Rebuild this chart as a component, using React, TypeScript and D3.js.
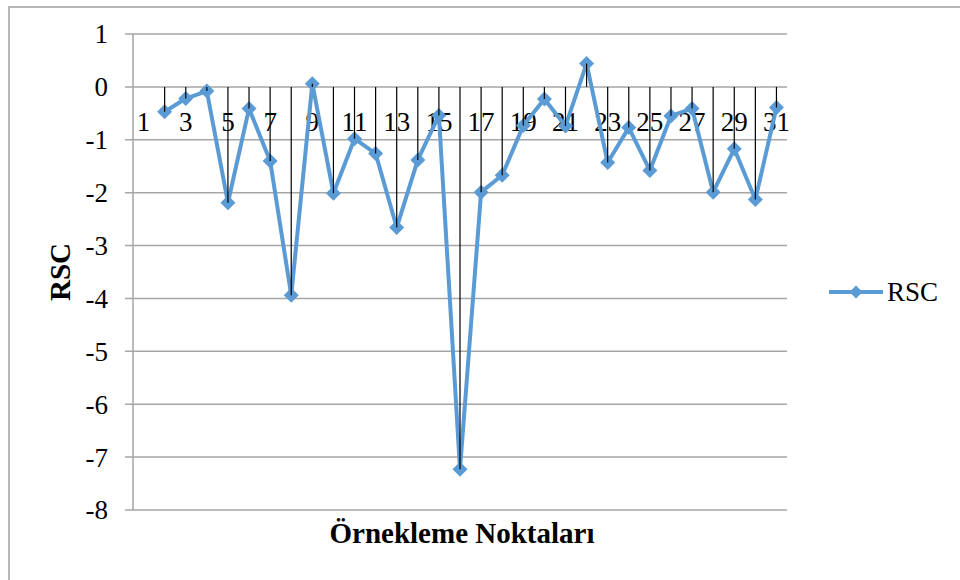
import { useEffect } from "react"
import * as d3 from "d3"

// sampling points 1..31 (point 1 has no value)
const categories = ["1", "2", "3", "4", "5", "6", "7", "8", "9", "10", "11", "12", "13", "14", "15", "16",
  "17", "18", "19", "20", "21", "22", "23", "24", "25", "26", "27", "28", "29", "30", "31"]
const rscValues: (number | null)[] = [null, -0.47, -0.22, -0.08, -2.19, -0.41, -1.4, -3.94, 0.06, -2.01, -0.98,
  -1.26, -2.66, -1.38, -0.54, -7.23, -1.99, -1.67, -0.73, -0.23, -0.74, 0.44, -1.43, -0.77, -1.58, -0.55,
  -0.41, -1.99, -1.17, -2.13, -0.39]
const yTicks = [1, 0, -1, -2, -3, -4, -5, -6, -7, -8]
const seriesName = "RSC"

const W = 960
const H = 580
const FONT = "'Liberation Serif', 'Times New Roman', serif"
const BLUE = "#5B9BD5"
const GRID = "#a6a6a6"

const diamond = (r: number) => `M0,${-r}L${r},0L0,${r}L${-r},0Z`

export default function App() {
  useEffect(() => {
    document.body.style.margin = "0"
  }, [])

  const x = d3.scaleBand().domain(categories).range([133, 787])
  const y = d3.scaleLinear().domain([-8, 1]).range([510, 34])
  const cx = (c: string) => (x(c) ?? 0) + x.bandwidth() / 2

  const pts = categories
    .map((c, i) => ({ c, v: rscValues[i] }))
    .filter((d): d is { c: string; v: number } => d.v !== null)

  const line = d3
    .line<{ c: string; v: number }>()
    .x((d) => cx(d.c))
    .y((d) => y(d.v))

  return (
    <svg width={W} height={H} style={{ display: "block", fontFamily: FONT }}>
      <rect x={0} y={0} width={W} height={H} fill="#fff" />
      {/* chart area border */}
      <rect x={9} y={7} width={W + 50} height={H + 50} fill="none" stroke="#a0a0a0" strokeWidth={1.5} />

      {/* gridlines + y ticks */}
      {yTicks.map((t) => (
        <g key={t}>
          <line x1={125} x2={787} y1={y(t)} y2={y(t)} stroke={GRID} strokeWidth={1.5} />
          <text x={108} y={y(t)} dy="0.35em" textAnchor="end" fontSize={27} fill="#000">
            {t}
          </text>
        </g>
      ))}
      <line x1={133} x2={133} y1={y(1)} y2={y(-8)} stroke={GRID} strokeWidth={1.5} />

      {/* category labels (every other) */}
      {categories.map((c, i) =>
        i % 2 === 0 ? (
          <text key={c} x={cx(c)} y={131} textAnchor="middle" fontSize={27} fill="#000">
            {c}
          </text>
        ) : null,
      )}

      {/* series */}
      <path d={line(pts) ?? ""} fill="none" stroke={BLUE} strokeWidth={4} strokeLinejoin="round" />
      {pts.map((d) => (
        <path key={d.c} d={diamond(7.5)} transform={`translate(${cx(d.c)},${y(d.v)})`} fill={BLUE} />
      ))}

      {/* drop lines */}
      {pts.map((d) => (
        <line key={d.c} x1={cx(d.c)} x2={cx(d.c)} y1={y(0)} y2={y(d.v)} stroke="#000" strokeWidth={1.2} />
      ))}

      {/* axis titles */}
      <text
        transform={`translate(70,272) rotate(-90)`}
        textAnchor="middle"
        fontSize={29}
        fontWeight="bold"
        fill="#000"
      >
        {seriesName}
      </text>
      <text x={462} y={543} textAnchor="middle" fontSize={29} fontWeight="bold" fill="#000">
        Örnekleme Noktaları
      </text>

      {/* legend */}
      <line x1={829} x2={883} y1={292} y2={292} stroke={BLUE} strokeWidth={4} />
      <path d={diamond(6.5)} transform="translate(856,292)" fill={BLUE} />
      <text x={887} y={301} fontSize={27} fill="#000">
        {seriesName}
      </text>
    </svg>
  )
}
